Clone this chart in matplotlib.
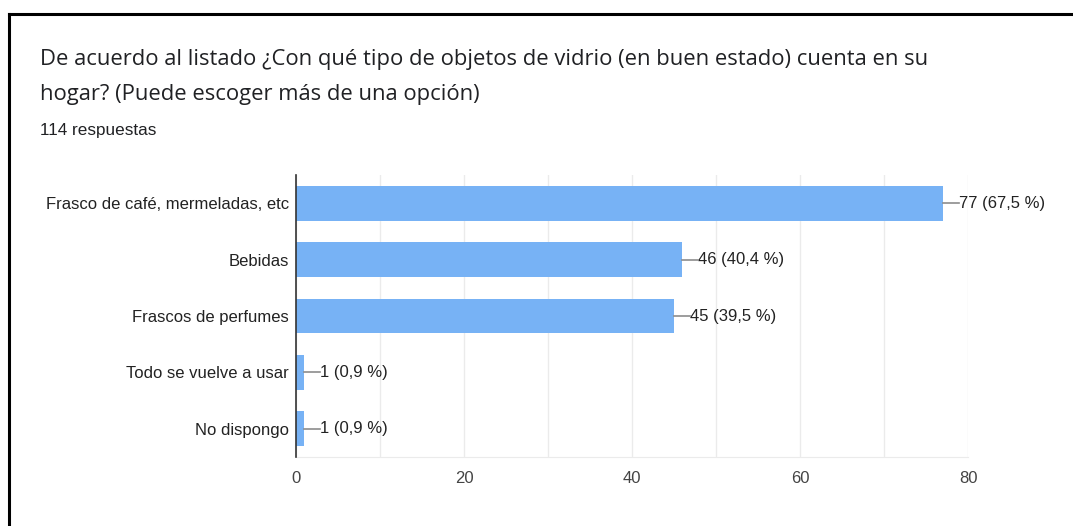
import matplotlib.pyplot as plt
from matplotlib.lines import Line2D

plt.rcParams['font.family'] = ['Liberation Sans', 'DejaVu Sans']

title = "De acuerdo al listado ¿Con qué tipo de objetos de vidrio (en buen estado) cuenta en su\nhogar? (Puede escoger más de una opción)"
subtitle = "114 respuestas"
categories = ["Frasco de café, mermeladas, etc", "Bebidas", "Frascos de perfumes",
              "Todo se vuelve a usar", "No dispongo"]
counts = [77, 46, 45, 1, 1]
percents = ["67,5", "40,4", "39,5", "0,9", "0,9"]
xticks = [0, 20, 40, 60, 80]

W, H = 1073, 526
fig = plt.figure(figsize=(W / 100, H / 100), dpi=100)
fig.patch.set_facecolor('white')

# frame around the screenshot (left and top edges only)
fig.add_artist(Line2D([9 / W, 9 / W], [0, 1 - 14 / H], transform=fig.transFigure,
                      color='black', linewidth=2.2))
fig.add_artist(Line2D([9 / W, 1], [1 - 14 / H, 1 - 14 / H], transform=fig.transFigure,
                      color='black', linewidth=2.2))

lines = title.split('\n')
fig.text(40 / W, 1 - 60 / H, lines[0], fontsize=15.85, color='#202124',
         va='center', ha='left', family=['Open Sans', 'DejaVu Sans'])
fig.text(40 / W, 1 - 95 / H, lines[1], fontsize=15.85, color='#202124',
         va='center', ha='left', family=['Open Sans', 'DejaVu Sans'])
fig.text(40 / W, 1 - 131 / H, subtitle, fontsize=12.3, color='#202124', va='center', ha='left')

ax = fig.add_axes([296 / W, 1 - 457 / H, (968 - 296) / W, (457 - 175) / H])
y = list(range(len(categories)))
ax.barh(y, counts, height=0.62, color='#77b2f5', zorder=3)
ax.set_ylim(len(categories) - 0.5, -0.5)
ax.set_xlim(0, 80)

ax.set_xticks(xticks)
ax.set_xticks(range(10, 80, 20), minor=True)
ax.grid(axis='x', which='both', color='#ebebeb', linewidth=1, zorder=0)
ax.set_yticks(y)
ax.set_yticklabels(categories)
ax.tick_params(axis='y', length=0, pad=5, labelsize=12, labelcolor='#222222')
ax.tick_params(axis='x', which='both', length=0, pad=10, labelsize=12, labelcolor='#444444')

for s in ['top', 'right']:
    ax.spines[s].set_visible(False)
ax.spines['left'].set_color('#333333')
ax.spines['left'].set_linewidth(1.2)
ax.spines['left'].set_zorder(5)
ax.spines['bottom'].set_color('#ebebeb')

for i, (c, p) in enumerate(zip(counts, percents)):
    ax.plot([c, c + 1.9], [i, i], color='#8c8c8c', linewidth=1.2, zorder=4)
    ax.text(c + 1.9, i, f"{c} ({p} %)", va='center', ha='left', fontsize=12, color='#222222')

fig.savefig('out.png', dpi=100, facecolor='white')
